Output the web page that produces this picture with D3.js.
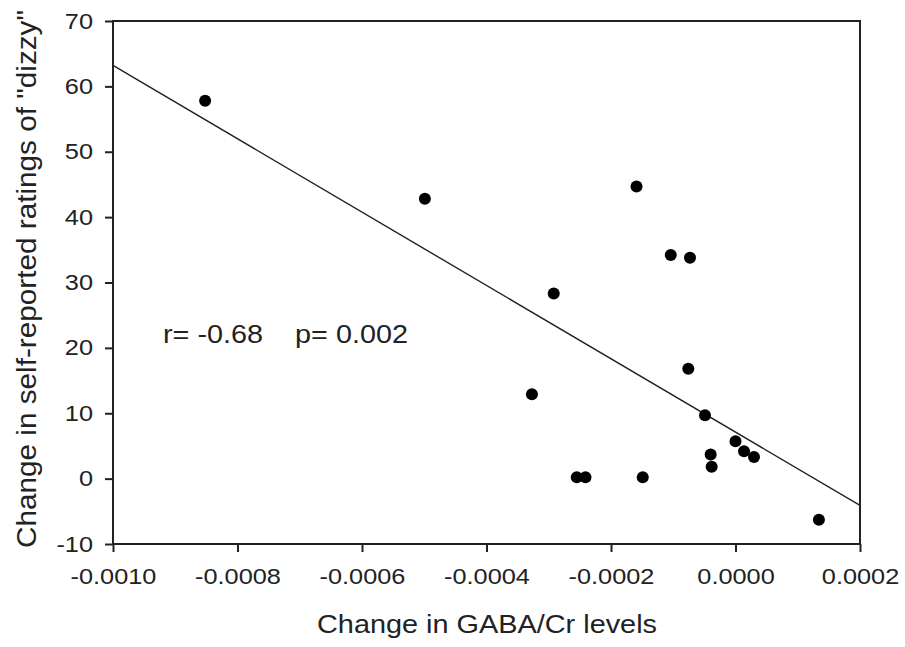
<!DOCTYPE html>
<html><head><meta charset="utf-8">
<script src="https://cdn.jsdelivr.net/npm/d3@7"></script>
<style>body{margin:0;background:#fff}svg{display:block}text{font-family:"Liberation Sans",Arial,sans-serif;fill:#222}</style>
</head><body>
<script>
const gabaChange = [-0.000852,-0.000499,-0.000292,-0.000327,-0.000255,-0.000241,-0.000149,-0.000159,-0.000104,-0.0000731,-0.0000758,-0.0000490,-0.0000399,-0.0000383,0.0000,0.0000137,0.0000297,0.000134];
const dizzyChange = [57.8,42.8,28.3,12.9,0.2,0.2,0.2,44.7,34.2,33.8,16.8,9.7,3.7,1.8,5.7,4.2,3.3,-6.3];
const fitX = [-0.0010,0.0002];
const fitY = [63.2,-4.1];
const xTicks = [-0.0010,-0.0008,-0.0006,-0.0004,-0.0002,0.0000,0.0002];
const yTicks = [-10,0,10,20,30,40,50,60,70];
const statsText = "r= -0.68    p= 0.002";

const W=905,H=647;
const m={l:113,r:45,t:21,b:103};
const stretch=1.15;
const svg=d3.select("body").append("svg").attr("width",W).attr("height",H);
const x=d3.scaleLinear().domain([-0.0010,0.0002]).range([m.l,W-m.r]);
const y=d3.scaleLinear().domain([-10,70]).range([H-m.b,m.t]);

function widen(sel,f){sel.each(function(){const l=this.getComputedTextLength();
  d3.select(this).attr("textLength",l*f).attr("lengthAdjust","spacingAndGlyphs");});}

const xa=svg.append("g").attr("transform",`translate(0,${H-m.b})`)
 .call(d3.axisBottom(x).tickValues(xTicks).tickSize(8).tickSizeOuter(0).tickPadding(16));
const ya=svg.append("g").attr("transform",`translate(${m.l},0)`)
 .call(d3.axisLeft(y).tickValues(yTicks).tickSize(8).tickSizeOuter(0).tickPadding(12));
[xa,ya].forEach(a=>{a.select(".domain").remove();a.selectAll("line").attr("stroke","#222").attr("stroke-width",2);
 a.selectAll("text").attr("font-size",22).attr("fill","#222").attr("font-family","Liberation Sans, Arial, sans-serif");});
xa.selectAll("text").text(d=>d3.format(".4f")(d).replace("−","-").replace("-0.0000","0.0000"));
ya.selectAll("text").text(d=>String(d));
widen(xa.selectAll("text"),stretch);
widen(ya.selectAll("text"),stretch);

svg.append("rect").attr("x",x(-0.0010)).attr("y",y(70)).attr("width",x(0.0002)-x(-0.0010)).attr("height",y(-10)-y(70))
 .attr("fill","none").attr("stroke","#222").attr("stroke-width",2);

svg.append("line").attr("x1",x(fitX[0])).attr("y1",y(fitY[0])).attr("x2",x(fitX[1])).attr("y2",y(fitY[1]))
 .attr("stroke","#222").attr("stroke-width",1.4);

svg.append("g").selectAll("circle").data(gabaChange).join("circle")
 .attr("cx",d=>x(d)).attr("cy",(d,i)=>y(dizzyChange[i])).attr("r",6).attr("fill","#000");

const st=svg.append("text").attr("x",163).attr("y",343).attr("font-size",25).attr("xml:space","preserve").style("white-space","pre").text(statsText);
st.attr("textLength",245).attr("lengthAdjust","spacingAndGlyphs");

svg.append("text").attr("x",487).attr("y",633).attr("text-anchor","middle").attr("font-size",25)
 .attr("textLength",340).attr("lengthAdjust","spacingAndGlyphs").text("Change in GABA/Cr levels");
svg.append("text").attr("transform",`translate(36,279) rotate(-90)`).attr("text-anchor","middle").attr("font-size",27)
 .attr("textLength",538).attr("lengthAdjust","spacingAndGlyphs")
 .text('Change in self-reported ratings of "dizzy"');
</script>
</body></html>
